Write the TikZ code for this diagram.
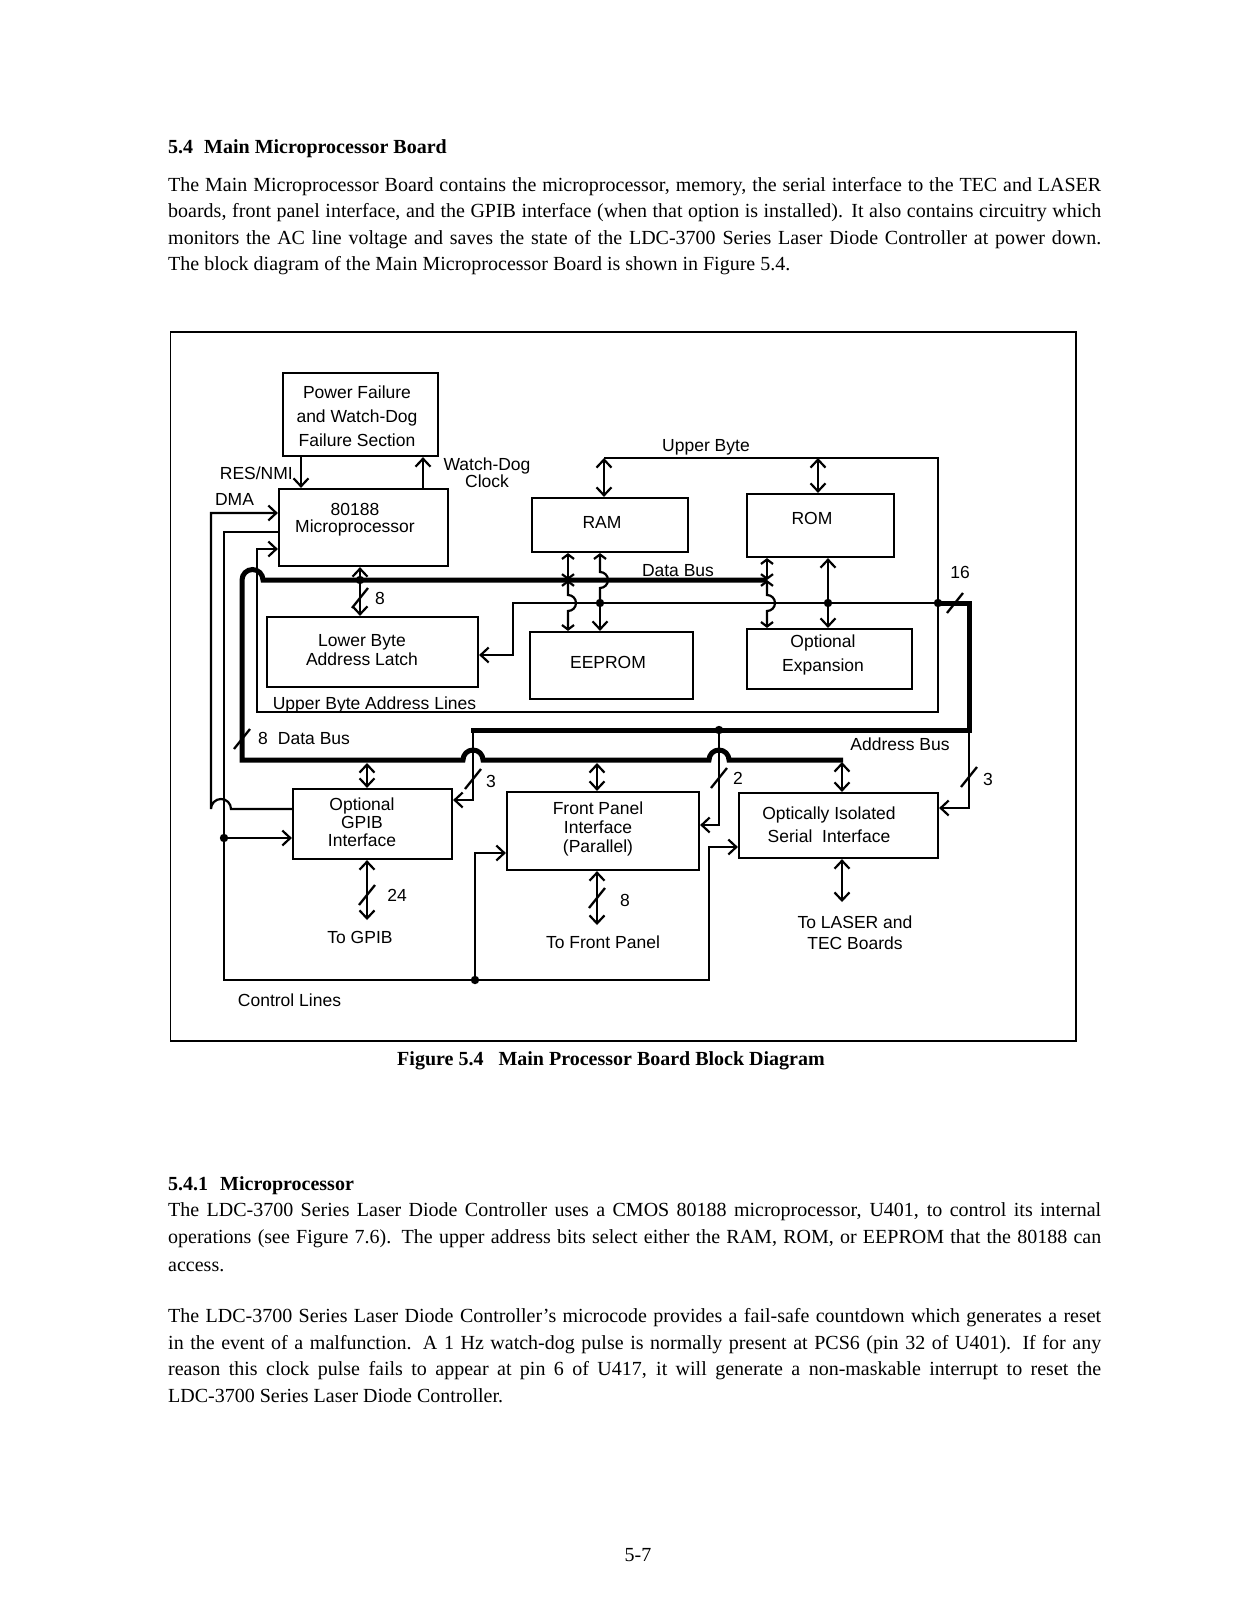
\documentclass[tikz,border=0pt]{standalone}
\usepackage{fontspec}
\setmainfont{Liberation Serif}
\newfontfamily\dfont{Liberation Sans}
\usetikzlibrary{arrows.meta}
\tikzset{
  Sm/.tip={Straight Barb[length=4.5pt,width=12pt]},
  sl/.pic={\draw[line width=2.3pt] (-8,10) -- (8,-10);}
}
\begin{document}
\begin{tikzpicture}[x=1pt,y=-1pt,
  ln/.style={line width=2.2pt},
  bus/.style={line width=5pt},
  box/.style={draw,line width=2.2pt,inner sep=0pt},
  lbl/.style={inner sep=0pt,align=center,font=\dfont\fontsize{17.5}{19}\selectfont},
  body/.style={anchor=base west,inner sep=0pt,font=\fontsize{20}{26.5}\selectfont},
  >={Straight Barb[length=8pt,width=15pt]}
]
\useasboundingbox (0,0) rectangle (1248,1599);
\fill[white] (0,0) rectangle (1248,1599);

% ---------- page text ----------
\node[body,font=\bfseries\fontsize{20}{26.5}\selectfont] (h1) at (168,153) {5.4\hspace{0.55em}Main Microprocessor Board};
\node[body] (p1a) at (168,191) {\makebox[933pt][s]{The Main Microprocessor Board contains the microprocessor, memory, the serial interface to the TEC and LASER}};
\node[body] (p1b) at (168,217) {\makebox[933pt][s]{boards, front panel interface, and the GPIB interface (when that option is installed). It also contains circuitry which}};
\node[body] (p1c) at (168,244) {\makebox[933pt][s]{monitors the AC line voltage and saves the state of the LDC-3700 Series Laser Diode Controller at power down.}};
\node[body] (p1d) at (168,270) {The block diagram of the Main Microprocessor Board is shown in Figure 5.4.};

\node[anchor=base,inner sep=0pt,font=\bfseries\fontsize{20}{26.5}\selectfont] (cap) at (611,1065) {Figure 5.4\hspace{0.75em}Main Processor Board Block Diagram};

\node[body,font=\bfseries\fontsize{20}{26.5}\selectfont] (h2) at (168,1190) {5.4.1\hspace{0.6em}Microprocessor};
\node[body] (p2a) at (168,1216) {\makebox[933pt][s]{The LDC-3700 Series Laser Diode Controller uses a CMOS 80188 microprocessor, U401, to control its internal}};
\node[body] (p2b) at (168,1243) {\makebox[933pt][s]{operations (see Figure 7.6). The upper address bits select either the RAM, ROM, or EEPROM that the 80188 can}};
\node[body] (p2c) at (168,1271) {access.};
\node[body] (p3a) at (168,1322) {\makebox[933pt][s]{The LDC-3700 Series Laser Diode Controller's microcode provides a fail-safe countdown which generates a reset}};
\node[body] (p3b) at (168,1349) {\makebox[933pt][s]{in the event of a malfunction. A 1 Hz watch-dog pulse is normally present at PCS6 (pin 32 of U401). If for any}};
\node[body] (p3c) at (168,1375) {\makebox[933pt][s]{reason this clock pulse fails to appear at pin 6 of U417, it will generate a non-maskable interrupt to reset the}};
\node[body] (p3d) at (168,1402) {LDC-3700 Series Laser Diode Controller.};
\node[anchor=base,inner sep=0pt,font=\fontsize{20}{26.5}\selectfont] (pg) at (638,1561) {5-7};

% ---------- frame ----------
\draw[line width=1.8pt] (170.5,332) rectangle (1076,1041);

% ---------- boxes ----------
\node[box,minimum width=155pt,minimum height=83pt] (power) at (360.5,414.5) {};
\node[box,minimum width=169pt,minimum height=77pt] (cpu) at (363.5,527.5) {};
\node[box,minimum width=156pt,minimum height=54pt] (ram) at (610,525) {};
\node[box,minimum width=147pt,minimum height=63pt] (rom) at (820.5,525.5) {};
\node[box,minimum width=211pt,minimum height=70pt] (latch) at (372.5,652) {};
\node[box,minimum width=163pt,minimum height=67pt] (eeprom) at (611.5,665.5) {};
\node[box,minimum width=165pt,minimum height=60pt] (optexp) at (829.5,659) {};
\node[box,minimum width=159pt,minimum height=70pt] (gpib) at (372.5,824) {};
\node[box,minimum width=192pt,minimum height=78pt] (fp) at (603,831) {};
\node[box,minimum width=199pt,minimum height=65pt] (oiso) at (838.5,825.5) {};

% ---------- labels ----------
\node[lbl,font=\dfont\fontsize{17.5}{24}\selectfont] (tpower) at (357,416) {Power Failure\\and Watch-Dog\\Failure Section};
\node[lbl,anchor=east] (tres) at (293,473) {RES/NMI};
\node[lbl,font=\dfont\fontsize{17.5}{17}\selectfont] (twd) at (487,473) {Watch-Dog\\Clock};
\node[lbl] (tdma) at (234.5,499) {DMA};
\node[lbl,font=\dfont\fontsize{17.5}{17}\selectfont] (tcpu) at (355,519.5) {80188\\Microprocessor};
\node[lbl] (tub) at (706,447) {Upper Byte};
\node[lbl] (tram) at (602,522) {RAM};
\node[lbl] (trom) at (812,518) {ROM};
\node[lbl] (tdb) at (678,571) {Data Bus};
\node[lbl] (t16) at (960,572) {16};
\node[lbl] (t8a) at (380,598) {8};
\node[lbl] (tlatch) at (362,650.5) {Lower Byte\\Address Latch};
\node[lbl] (teeprom) at (608,662) {EEPROM};
\node[lbl,font=\dfont\fontsize{17.5}{24}\selectfont] (toptexp) at (823,655) {Optional\\Expansion};
\node[lbl] (tubal) at (374.5,705) {Upper Byte Address Lines};
\node[lbl,anchor=west] (t8db) at (258,738) {8\hspace{10pt}Data Bus};
\node[lbl] (tab) at (900,744) {Address Bus};
\node[lbl] (t3a) at (491,781) {3};
\node[lbl] (t2) at (738,778) {2};
\node[lbl] (t3b) at (988,779) {3};
\node[lbl,font=\dfont\fontsize{17.5}{18}\selectfont] (tgpib) at (362,822) {Optional\\GPIB\\Interface};
\node[lbl] (tfp) at (598,829) {Front Panel\\Interface\\(Parallel)};
\node[lbl,font=\dfont\fontsize{17.5}{23}\selectfont] (toiso) at (829,824.5) {Optically Isolated\\Serial\ \ Interface};
\node[lbl] (t24) at (397,895) {24};
\node[lbl] (t8b) at (625,900) {8};
\node[lbl] (ttogpib) at (360,937) {To GPIB};
\node[lbl] (ttofp) at (603,942) {To Front Panel};
\node[lbl,font=\dfont\fontsize{17.5}{21}\selectfont] (ttolaser) at (855,932.5) {To LASER and\\TEC Boards};
\node[lbl] (tcl) at (289.5,1000) {Control Lines};

% ---------- power / cpu ----------
\draw[ln,->] (power.south -| 301,0) -- (cpu.north -| 301,0);
\draw[ln,->] (cpu.north -| 423,0) -- (power.south -| 423,0);

% DMA from GPIB
\draw[ln,->] (gpib.west |- 0,809) -- (231,809) arc[start angle=0,end angle=180,radius=10pt] -- (211,513) -- (cpu.west |- 0,513);
% control lines
\draw[ln,->] (cpu.west |- 0,532) -- (224,532) -- (224,980) -- (709,980) -- (709,847) -- (oiso.west |- 0,847);
\draw[ln,->] (224,838) -- (gpib.west |- 0,838);
\draw[ln,->] (475,980) -- (475,853) -- (fp.west |- 0,853);
\fill (224,838) circle[radius=4.2pt];
\fill (475,980) circle[radius=4.2pt];

% upper byte lines
\draw[ln,->] (604,458) -- (938,458) -- (938,712) -- (257,712) -- (257,549) -- (cpu.west |- 0,549);
\draw[ln,<->] (604,458) -- (ram.north -| 604,0);
\draw[ln,<->] (818,458) -- (rom.north -| 818,0);

% address lines
\draw[ln,->] (938,603) -- (513,603) -- (513,655) -- (latch.east |- 0,655);
\draw[bus] (938,603) -- (969,603) -- (969,730) -- (471,730);
\draw[ln,->] (473,730) -- (473,800) -- (gpib.east |- 0,800);
\draw[ln,->] (719,730) -- (719,825) -- (fp.east |- 0,825);
\draw[ln,->] (969,730) -- (969,808) -- (oiso.east |- 0,808);
\fill (938,603) circle[radius=4.2pt];
\fill (719,730) circle[radius=4.2pt];

% data bus
\draw[bus] (843,760) -- (729,760) arc[start angle=0,end angle=180,radius=10pt]
  -- (483,760) arc[start angle=0,end angle=180,radius=10pt]
  -- (242,760) -- (242,580) arc[start angle=180,end angle=0,radius=10.5pt] -- (767,580);

\draw[ln,->] (360,580) -- (cpu.south -| 360,0);
\draw[ln,->] (360,580) -- (latch.north -| 360,0);
\fill (360,580) circle[radius=4.2pt];

% RAM / EEPROM
\draw[ln,Sm-Sm] (ram.south -| 568,0) -- (568,580);
\draw[ln,Sm-Sm] (568,580) -- (568,595) arc[start angle=90,end angle=-90,radius=8pt] -- (eeprom.north -| 568,0);
\draw[ln,-Sm] (600,603) -- (600,588) arc[start angle=-90,end angle=90,radius=8pt] -- (ram.south -| 600,0);
\draw[ln,->] (600,603) -- (eeprom.north -| 600,0);
\fill (600,603) circle[radius=4.2pt];

% ROM / Optional Expansion
\draw[ln,Sm-Sm] (rom.south -| 767,0) -- (767,580);
\draw[ln,Sm-Sm] (767,580) -- (767,595) arc[start angle=90,end angle=-90,radius=8pt] -- (optexp.north -| 767,0);
\draw[ln,->] (828,603) -- (rom.south -| 828,0);
\draw[ln,->] (828,603) -- (optexp.north -| 828,0);
\fill (828,603) circle[radius=4.2pt];

% data bus to interfaces
\draw[ln,<->] (367,763) -- (gpib.north -| 367,0);
\draw[ln,<->] (597,763) -- (fp.north -| 597,0);
\draw[ln,<->] (842,762) -- (oiso.north -| 842,0);

% outputs
\draw[ln,<->] (gpib.south -| 367,0) -- (367,920);
\draw[ln,<->] (fp.south -| 597,0) -- (597,925);
\draw[ln,<->] (oiso.south -| 842,0) -- (842,902);

% bus width slashes
\pic at (360,598) {sl};
\pic at (955,603) {sl};
\pic at (242,739) {sl};
\pic at (473,779) {sl};
\pic at (719,778) {sl};
\pic at (969,777) {sl};
\pic at (367,895) {sl};
\pic at (597,898) {sl};
\end{tikzpicture}
\end{document}
